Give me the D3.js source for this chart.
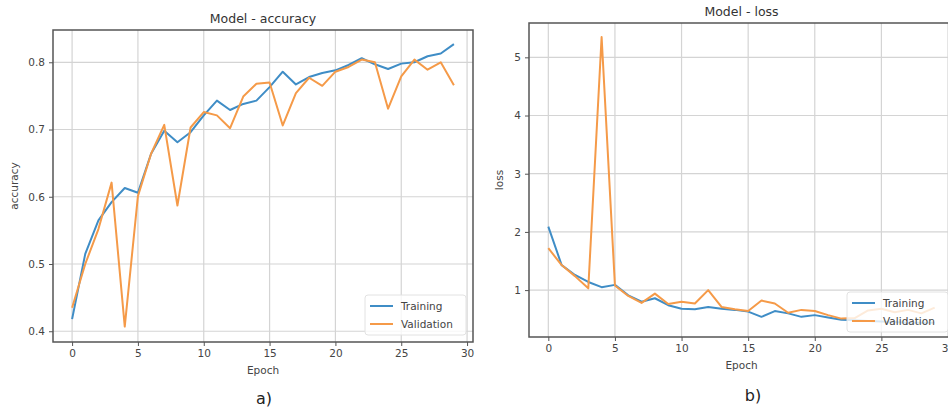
<!DOCTYPE html>
<html>
<head>
<meta charset="utf-8">
<script src="https://cdnjs.cloudflare.com/ajax/libs/d3/7.8.5/d3.min.js"></script>
<style>
  body { margin: 0; background: #fff; }
  text { font-family: "DejaVu Sans", sans-serif; fill: #333; }
</style>
</head>
<body>
<div id="chart"></div>
<script>
// epochs 0..29
const epochs = d3.range(0, 30)

// accuracy
const accTrain = [0.418, 0.515, 0.565, 0.592, 0.613, 0.606, 0.664, 0.698, 0.681, 0.696,
                  0.721, 0.743, 0.729, 0.738, 0.743, 0.763, 0.786, 0.767, 0.778, 0.784,
                  0.788, 0.796, 0.806, 0.797, 0.790, 0.798, 0.800, 0.809, 0.813, 0.827]
const accVal = [0.435, 0.500, 0.552, 0.621, 0.407, 0.601, 0.664, 0.707, 0.587, 0.703,
                0.726, 0.721, 0.702, 0.749, 0.768, 0.770, 0.706, 0.754, 0.777, 0.765,
                0.786, 0.793, 0.804, 0.800, 0.731, 0.779, 0.804, 0.789, 0.800, 0.766]

// loss (last epochs partly hidden by the legend)
const lossTrain = [2.09, 1.43, 1.26, 1.14, 1.05, 1.09, 0.91, 0.80, 0.86, 0.74,
                   0.68, 0.67, 0.71, 0.68, 0.66, 0.63, 0.54, 0.64, 0.60, 0.54,
                   0.57, 0.53, 0.49, 0.48, 0.47, 0.46, 0.45, 0.44, 0.44, 0.44]
const lossVal = [1.72, 1.43, 1.24, 1.03, 5.35, 1.08, 0.90, 0.78, 0.94, 0.76,
                 0.80, 0.77, 1.00, 0.71, 0.67, 0.64, 0.82, 0.77, 0.61, 0.66,
                 0.64, 0.57, 0.51, 0.52, 0.65, 0.68, 0.62, 0.66, 0.60, 0.70]

const xTicks = [0, 5, 10, 15, 20, 25, 30]
const accTicks = [0.4, 0.5, 0.6, 0.7, 0.8]
const lossTicks = [1, 2, 3, 4, 5]
const seriesNames = ["Training", "Validation"]
const colors = ["#3f8dc6", "#f59a48"]

const svg = d3.select("#chart").append("svg")
  .attr("width", 948)
  .attr("height", 411)

// one matplotlib-like panel
function panel(opt) {
  const g = svg.append("g")
  const x = d3.scaleLinear().domain([-1.45, 30.45]).range([opt.left, opt.right])
  const y = d3.scaleLinear().domain(opt.yDomain).range([opt.bottom, opt.top])

  // grid
  g.append("g").selectAll("line").data(xTicks).join("line")
    .attr("x1", d => x(d)).attr("x2", d => x(d))
    .attr("y1", opt.top).attr("y2", opt.bottom)
    .attr("stroke", "#d4d4d4").attr("stroke-width", 1.2)
  g.append("g").selectAll("line").data(opt.yTicks).join("line")
    .attr("x1", opt.left).attr("x2", opt.right)
    .attr("y1", d => y(d)).attr("y2", d => y(d))
    .attr("stroke", "#d4d4d4").attr("stroke-width", 1.2)

  // axes
  const ax = g.append("g")
    .attr("transform", `translate(0,${opt.bottom})`)
    .call(d3.axisBottom(x).tickValues(xTicks).tickSize(4).tickPadding(4))
  const ay = g.append("g")
    .attr("transform", `translate(${opt.left},0)`)
    .call(d3.axisLeft(y).tickValues(opt.yTicks).tickFormat(opt.fmt).tickSize(4).tickPadding(4))
  ;[ax, ay].forEach(a => {
    a.select(".domain").remove()
    a.selectAll("line").attr("stroke", "#555")
    a.selectAll("text").style("font-size", "10.5px").style("fill", "#444")
  })

  // lines
  const line = d3.line().x((d, i) => x(epochs[i])).y(d => y(d))
  opt.series.forEach((s, k) => {
    g.append("path")
      .datum(s)
      .attr("fill", "none")
      .attr("stroke", colors[k])
      .attr("stroke-width", 2)
      .attr("stroke-linejoin", "round")
      .attr("d", line)
  })

  // frame
  g.append("rect")
    .attr("x", opt.left).attr("y", opt.top)
    .attr("width", opt.right - opt.left).attr("height", opt.bottom - opt.top)
    .attr("fill", "none").attr("stroke", "#555").attr("stroke-width", 1.5)

  // legend
  const lg = g.append("g").attr("transform", `translate(${opt.legX},${opt.legY})`)
  lg.append("rect")
    .attr("width", 101).attr("height", 40).attr("rx", 3)
    .attr("fill", "#fff").attr("fill-opacity", 0.8)
    .attr("stroke", "#e2e2e2")
  seriesNames.forEach((n, k) => {
    lg.append("line")
      .attr("x1", 5).attr("x2", 28)
      .attr("y1", 11 + k * 18).attr("y2", 11 + k * 18)
      .attr("stroke", colors[k]).attr("stroke-width", 2)
    lg.append("text")
      .attr("x", 36).attr("y", 15 + k * 18)
      .style("font-size", "10.5px").style("fill", "#444")
      .text(n)
  })

  // titles
  const cx = (opt.left + opt.right) / 2
  g.append("text").attr("x", cx).attr("y", opt.top - 7)
    .attr("text-anchor", "middle").style("font-size", "12.5px")
    .text(opt.title)
  g.append("text").attr("x", cx).attr("y", opt.bottom + 32)
    .attr("text-anchor", "middle").style("font-size", "10.5px").style("fill", "#444")
    .text("Epoch")
  g.append("text")
    .attr("transform", `translate(${opt.yLabX},${(opt.top + opt.bottom) / 2}) rotate(-90)`)
    .attr("text-anchor", "middle").style("font-size", "10.5px").style("fill", "#444")
    .text(opt.yLabel)
  g.append("text").attr("x", opt.subX).attr("y", opt.subY)
    .attr("text-anchor", "middle").style("font-size", "16px").style("fill", "#222")
    .text(opt.sub)
}

panel({
  left: 53, right: 473, top: 30, bottom: 342,
  yDomain: [0.384, 0.848], yTicks: accTicks, fmt: d3.format(".1f"),
  series: [accTrain, accVal],
  title: "Model - accuracy", yLabel: "accuracy", yLabX: 18,
  legX: 365, legY: 295, sub: "a)", subX: 264, subY: 404
})

panel({
  left: 529, right: 954, top: 23, bottom: 337,
  yDomain: [0.194, 5.59], yTicks: lossTicks, fmt: d3.format("d"),
  series: [lossTrain, lossVal],
  title: "Model - loss", yLabel: "loss", yLabX: 503,
  legX: 847, legY: 292, sub: "b)", subX: 753, subY: 401
})
</script>
</body>
</html>
